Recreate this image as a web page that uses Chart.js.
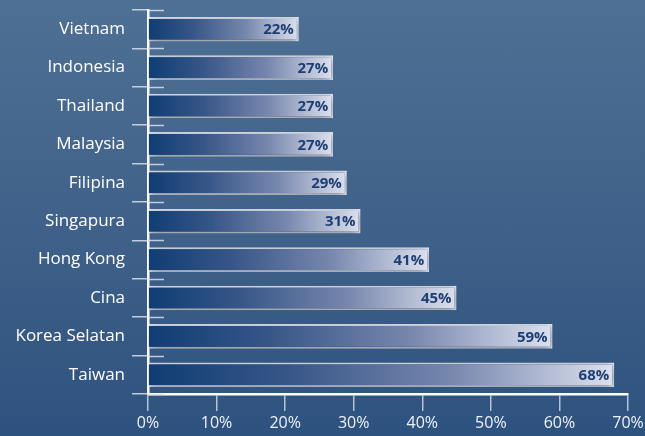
<!DOCTYPE html>
<html>
<head>
<meta charset="utf-8">
<script src="https://cdn.jsdelivr.net/npm/chart.js@4"></script>
<style>
  html, body { margin: 0; padding: 0; }
  body {
    width: 645px; height: 436px; overflow: hidden;
    background: linear-gradient(180deg, #4e7094 0%, #40628a 50%, #2e527f 100%);
  }
  #wrap { position: relative; width: 645px; height: 436px; }
</style>
</head>
<body>
<div id="wrap"><canvas id="barChart"></canvas></div>
<script>
var countries = ['Vietnam', 'Indonesia', 'Thailand', 'Malaysia', 'Filipina',
                 'Singapura', 'Hong Kong', 'Cina', 'Korea Selatan', 'Taiwan'];
var shares = [22, 27, 27, 27, 29, 31, 41, 45, 59, 68];
var axisMax = 70;
var axisStep = 10;

var FONT = '"Open Sans", "DejaVu Sans", sans-serif';

// each bar fades from navy at 0% to pale lilac at its own end
function barGradient(context) {
    var chart = context.chart;
    if (!chart.chartArea || !chart.scales.x) return '#3e5a8a';
    var x = chart.scales.x;
    var x0 = x.getPixelForValue(0);
    var x1 = x.getPixelForValue(context.raw);
    var g = chart.ctx.createLinearGradient(x0, 0, x1, 0);
    g.addColorStop(0, '#0f3d73');
    g.addColorStop(0.3, '#375688');
    g.addColorStop(0.65, '#7787ad');
    g.addColorStop(1, '#dde1ef');
    return g;
}

// soft dark glow under the bars
var barShadow = {
    id: 'barShadow',
    beforeDatasetsDraw: function(chart) {
        var c = chart.ctx;
        c.save();
        c.shadowColor = 'rgba(8, 22, 48, 0.55)';
        c.shadowBlur = 10;
        c.shadowOffsetY = 2;
    },
    afterDatasetsDraw: function(chart) {
        chart.ctx.restore();
    }
};

// the category ticks cross the axis, so draw their right half too
var crossTicks = {
    id: 'crossTicks',
    afterDraw: function(chart) {
        var c = chart.ctx;
        var y = chart.scales.y;
        var left = chart.chartArea.left;
        c.save();
        c.strokeStyle = 'rgba(215, 224, 236, 0.85)';
        c.lineWidth = 1.5;
        for (var i = 0; i <= countries.length; i++) {
            var py = Math.round(y.getPixelForValue(i - 0.5)) + 0.5;
            c.beginPath();
            c.moveTo(left, py);
            c.lineTo(left + 16, py);
            c.stroke();
        }
        c.restore();
    }
};

// percentage written inside the right end of every bar
var valueLabels = {
    id: 'valueLabels',
    afterDatasetsDraw: function(chart) {
        var c = chart.ctx;
        var meta = chart.getDatasetMeta(0);
        c.save();
        c.font = 'bold 15px ' + FONT;
        c.fillStyle = '#1d3f72';
        c.textAlign = 'right';
        c.textBaseline = 'middle';
        meta.data.forEach(function(bar, i) {
            c.fillText(shares[i] + '%', bar.x - 5, bar.y + 1);
        });
        c.restore();
    }
};

var ctx = document.getElementById('barChart');

var chart = new Chart(ctx, {
    type: 'bar',
    data: {
        labels: countries,
        datasets: [{
            data: shares,
            backgroundColor: barGradient,
            borderColor: 'rgba(240, 244, 251, 0.95)',
            borderWidth: 2,
            borderSkipped: 'start',
            barPercentage: 0.64,
            categoryPercentage: 1
        }]
    },
    options: {
        indexAxis: 'y',
        responsive: true,
        maintainAspectRatio: false,
        animation: false,
        layout: { padding: { top: 0, left: 0, right: 0, bottom: 0 } },
        plugins: {
            legend: { display: false },
            tooltip: { enabled: false }
        },
        scales: {
            x: {
                min: 0,
                max: axisMax,
                afterFit: function(scale) {
                    scale.height = 42;
                    scale.paddingRight = 17;
                },
                border: { color: '#ffffff', width: 2.5 },
                grid: {
                    drawOnChartArea: false,
                    tickLength: 17,
                    color: 'rgba(225, 232, 242, 0.75)',
                    lineWidth: 1.5
                },
                ticks: {
                    stepSize: axisStep,
                    padding: 3,
                    color: '#eef2f8',
                    font: { family: FONT, size: 16 },
                    callback: function(v) { return v + '%'; }
                }
            },
            y: {
                afterFit: function(scale) {
                    scale.width = 148;
                    scale.paddingTop = 10;
                    scale.paddingBottom = 0;
                },
                border: { color: '#ffffff', width: 2.5 },
                grid: {
                    drawOnChartArea: false,
                    offset: true,
                    tickLength: 16,
                    color: 'rgba(215, 224, 236, 0.85)',
                    lineWidth: 1.5
                },
                ticks: {
                    padding: 7,
                    color: '#ffffff',
                    font: { family: FONT, size: 17 }
                }
            }
        }
    },
    plugins: [barShadow, crossTicks, valueLabels]
});
</script>
</body>
</html>
